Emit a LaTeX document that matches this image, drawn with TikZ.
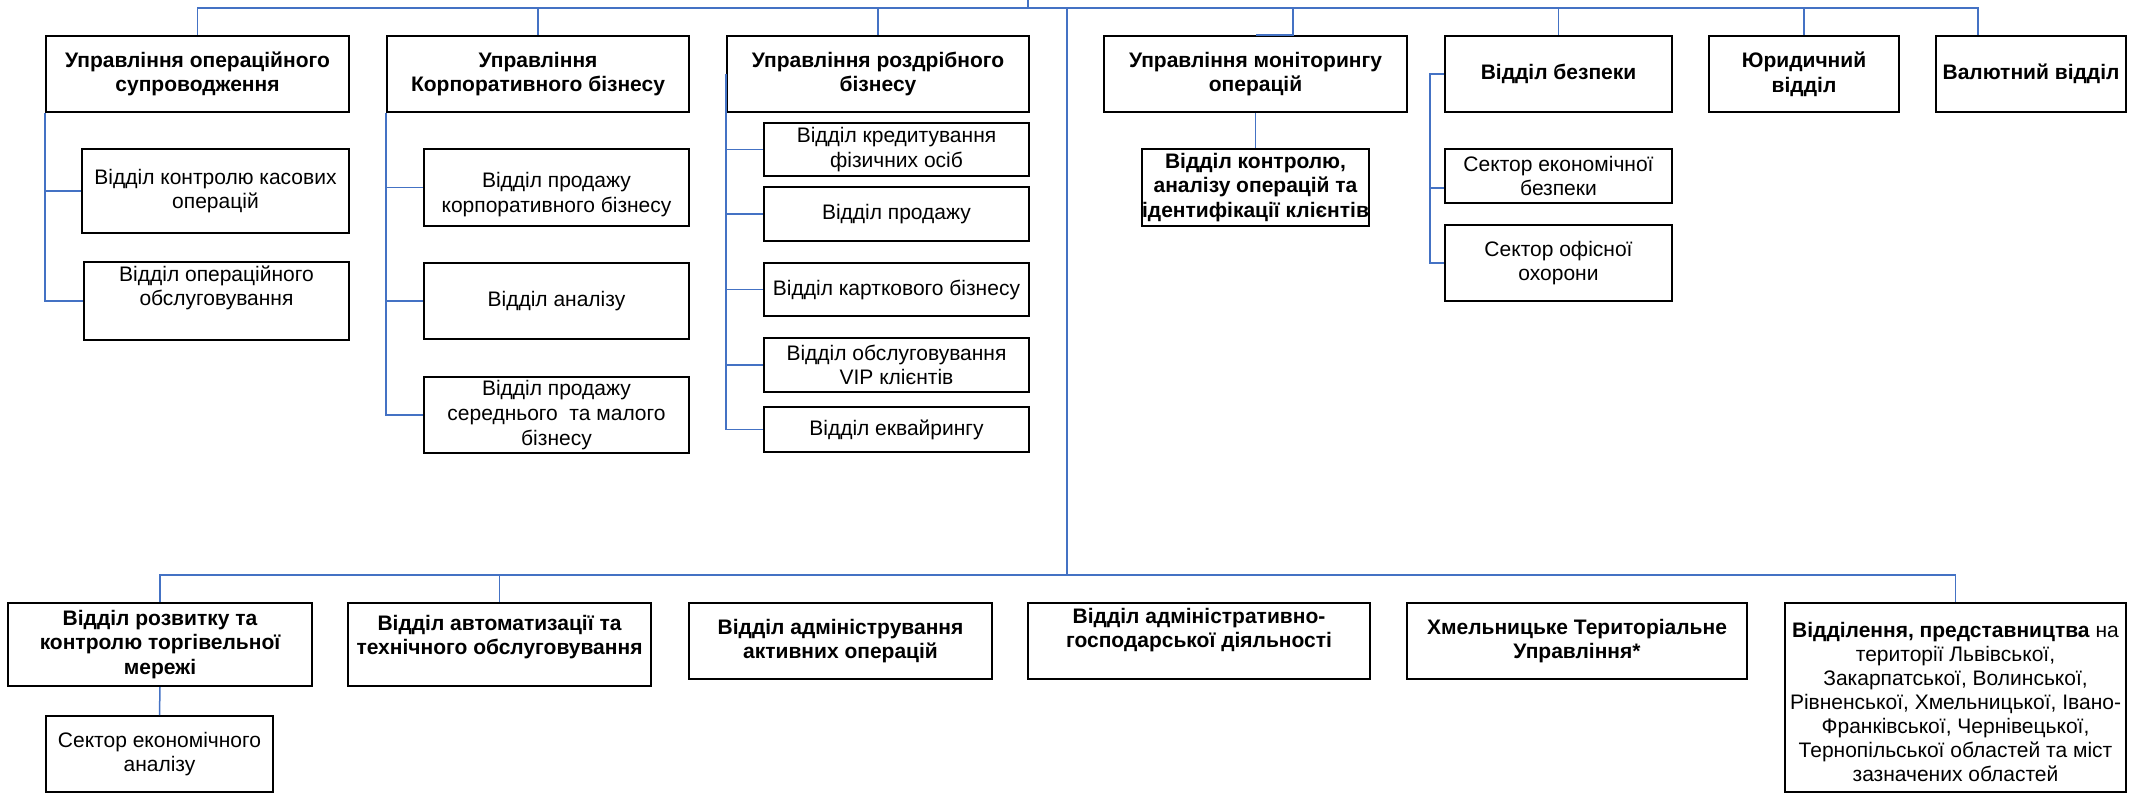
\documentclass[tikz,border=0pt]{standalone}
\usepackage{fontspec}
\setmainfont{Liberation Sans}
\usepackage{xcolor}
\definecolor{linkblue}{RGB}{68,114,196}

\begin{document}
\begin{tikzpicture}[x=0.5pt,y=-0.5pt,
  box/.style={draw,line width=1pt,inner sep=0pt,align=center,font=\fontsize{10.5}{12.3}\selectfont},
  head/.style={box,font=\fontsize{10.5}{12.3}\selectfont\bfseries},
  sz/.style 2 args={minimum width=#1*0.5pt,minimum height=#2*0.5pt},
  txt/.style={inner sep=0pt,align=center,font=\fontsize{10.5}{12.3}\selectfont},
  headtxt/.style={txt,font=\fontsize{10.5}{12.3}\selectfont\bfseries},
  link/.style={draw=linkblue,line width=0.75pt}]
\useasboundingbox (0,0) rectangle (2139,792);

\node[head,sz={303}{76}] (uos) at (197.5,74) {Управління операційного\\супроводження};
\node[head,sz={302}{76}] (ukb) at (538,74) {Управління\\Корпоративного бізнесу};
\node[head,sz={302}{76}] (urb) at (878,74) {Управління роздрібного\\бізнесу};
\node[head,sz={303}{76}] (umo) at (1255.5,74) {Управління моніторингу\\операцій};
\node[head,sz={227}{76}] (vb) at (1558.5,74) {Відділ безпеки};
\node[head,sz={190}{76}] (yur) at (1804,74) {Юридичний\\відділ};
\node[head,sz={190}{76}] (val) at (2031,74) {Валютний відділ};

\node[box,sz={267}{84}] (kko) at (215.5,191) {Відділ контролю касових\\операцій};
\node[box,sz={265}{78}] (oob) at (216.5,301) {};
\node[txt] (oob-t) at (216.5,288) {Відділ операційного\\обслуговування};

\node[box,sz={265}{77}] (pkb) at (556.5,187.5) {};
\node[txt] (pkb-t) at (556.5,194.5) {Відділ продажу\\корпоративного бізнесу};
\node[box,sz={265}{76}] (van) at (556.5,301) {Відділ аналізу};
\node[box,sz={265}{76}] (psm) at (556.5,415) {Відділ продажу\\середнього~ та малого\\бізнесу};

\node[box,sz={265}{53}] (kfo) at (896.5,149.5) {Відділ кредитування\\фізичних осіб};
\node[box,sz={265}{54}] (vpr) at (896.5,214) {Відділ продажу};
\node[box,sz={265}{53}] (vkb) at (896.5,289.5) {Відділ карткового бізнесу};
\node[box,sz={265}{54}] (vip) at (896.5,365) {Відділ обслуговування\\VIP клієнтів};
\node[box,sz={265}{45}] (ekv) at (896.5,429.5) {Відділ еквайрингу};

\node[head,sz={227}{77}] (kai) at (1255.5,187.5) {Відділ контролю,\\аналізу операцій та\\ідентифікації клієнтів};

\node[box,sz={227}{54}] (seb) at (1558.5,176) {Сектор економічної\\безпеки};
\node[box,sz={227}{76}] (soo) at (1558.5,263) {Сектор офісної\\охорони};

\node[head,sz={304}{83}] (rkt) at (160,644.5) {Відділ розвитку та\\контролю торгівельної\\мережі};
\node[box,sz={227}{76}] (sea) at (159.5,754) {Сектор економічного\\аналізу};
\node[box,sz={303}{83}] (ato) at (499.5,644.5) {};
\node[headtxt] (ato-t) at (499.5,637) {Відділ автоматизації та\\технічного обслуговування};
\node[head,sz={303}{76}] (aao) at (840.5,641) {Відділ адміністрування\\активних операцій};
\node[box,sz={342}{76}] (agd) at (1199,641) {};
\node[headtxt] (agd-t) at (1199,630) {Відділ адміністративно-\\господарської діяльності};
\node[head,sz={340}{76}] (xtu) at (1577,641) {Хмельницьке Територіальне\\Управління*};
\node[box,sz={341}{189}] (vpp) at (1955.5,697.5) {};
\node[txt,font=\fontsize{10.5}{12}\selectfont] (vpp-t) at (1955.5,702) {\textbf{Відділення, представництва} на\\території Львівської,\\Закарпатської, Волинської,\\Рівненської, Хмельницької, Івано-\\Франківської, Чернівецької,\\Тернопільської областей та міст\\зазначених областей};

\coordinate (top) at (1028,0);
\coordinate (tbus) at (1067,8);
\coordinate (bbus) at (1067,575);
\coordinate (valstub) at ([xshift=-26.5pt]val.north);
\coordinate (umostub) at ([xshift=18.75pt]umo.north);

\draw[link] (top) -- (top |- tbus);
\draw[link] (uos.north) |- (tbus) -| (valstub);
\draw[link] (ukb.north) -- (ukb.north |- tbus);
\draw[link] (urb.north) -- (urb.north |- tbus);
\draw[link] (umostub |- tbus) -- (umostub) -- (umo.north);
\draw[link] (vb.north) -- (vb.north |- tbus);
\draw[link] (yur.north) -- (yur.north |- tbus);
\draw[link] (tbus) -- (bbus);

\draw[link] (uos.south west) |- (oob.west);
\draw[link] (uos.south west |- kko.west) -- (kko.west);

\draw[link] (ukb.south west) |- (psm.west);
\draw[link] (ukb.south west |- pkb.west) -- (pkb.west);
\draw[link] (ukb.south west |- van.west) -- (van.west);

\draw[link] (urb.west) |- (ekv.west);
\foreach \s in {kfo,vpr,vkb,vip}
  \draw[link] (urb.west |- \s.west) -- (\s.west);

\draw[link] (umo.south) -- (kai.north);

\draw[link] (vb.west) -- ++(-14,0) |- (soo.west);
\draw[link] ([yshift=-6pt]seb.west) -- ++(-14,0);

\draw[link] (rkt.north) |- (bbus) -| (vpp.north);
\draw[link] (ato.north) -- (ato.north |- bbus);
\draw[link] (rkt.south) -- (sea.north);
\end{tikzpicture}
\end{document}
